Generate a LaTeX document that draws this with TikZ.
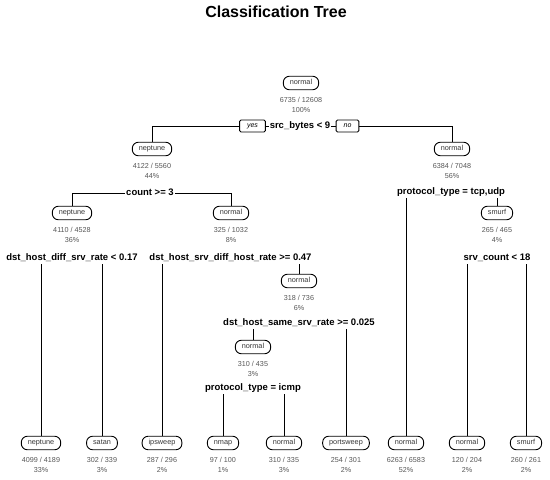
\documentclass[tikz,border=0pt]{standalone}
\usepackage{fontspec}
\setmainfont{Liberation Sans}
\usetikzlibrary{backgrounds}
\newcommand{\tn}[6]{%
  \node[nodebox] (#1) at (#2,#3) {#4};
  \node[stattext] (#1s) at (#2,#3+22) {#5\\#6};
}
\newcommand{\splitedge}[3]{%
  \draw[edgeline] (#2.north) -- (#2.north |- #1.center) -- (#3.north |- #1.center) -- (#3.north);
}
\begin{document}
\begin{tikzpicture}[x=1pt,y=-1pt,
  nodebox/.style={draw, line width=0.9pt, rounded corners=6pt, minimum height=13.5pt,
    inner xsep=6.5pt, inner ysep=0pt, text height=5.4pt, text depth=1.7pt,
    font=\fontsize{7.3}{8}\selectfont, text=black!78, fill=white},
  stattext/.style={align=center, font=\fontsize{7.2}{10}\selectfont, text=black!66, inner sep=0pt},
  splitlabel/.style={fill=white, inner xsep=1pt, inner ysep=1pt, text height=7pt, text depth=2pt,
    font=\bfseries\fontsize{9.5}{10}\selectfont},
  yesno/.style={draw, line width=0.9pt, rounded corners=1.5pt, fill=white, minimum height=12pt,
    inner xsep=7.5pt, inner ysep=0pt, text height=5pt, text depth=1.5pt,
    font=\itshape\fontsize{7}{8}\selectfont},
  edgeline/.style={line width=1pt}]
\useasboundingbox (0,0) rectangle (550,480);
\node[font=\bfseries\fontsize{16}{18}\selectfont] (title) at (276,12) {Classification Tree};

% internal nodes
\tn{n1}{301}{83}{normal}{6735 / 12608}{100\%}
\tn{n2}{152}{149}{neptune}{4122 / 5560}{44\%}
\tn{n3}{452}{149}{normal}{6384 / 7048}{56\%}
\tn{n4}{72}{213}{neptune}{4110 / 4528}{36\%}
\tn{n5}{231}{213}{normal}{325 / 1032}{8\%}
\tn{n7}{497}{213}{smurf}{265 / 465}{4\%}
\tn{n11}{299}{281}{normal}{318 / 736}{6\%}
\tn{n22}{253}{347}{normal}{310 / 435}{3\%}

% leaves
\tn{l1}{41}{443}{neptune}{4099 / 4189}{33\%}
\tn{l2}{102}{443}{satan}{302 / 339}{3\%}
\tn{l3}{162}{443}{ipsweep}{287 / 296}{2\%}
\tn{l4}{223}{443}{nmap}{97 / 100}{1\%}
\tn{l5}{284}{443}{normal}{310 / 335}{3\%}
\tn{l6}{346}{443}{portsweep}{254 / 301}{2\%}
\tn{l7}{406}{443}{normal}{6263 / 6583}{52\%}
\tn{l8}{467}{443}{normal}{120 / 204}{2\%}
\tn{l9}{526}{443}{smurf}{260 / 261}{2\%}

% split labels
\node[splitlabel] (s1) at (300,126) {src\_bytes < 9};
\node[yesno] (yes) at (252.5,126) {yes};
\node[yesno] (no) at (347.5,126) {no};
\node[splitlabel] (s2) at (150,193) {count >= 3};
\node[splitlabel] (s3) at (451,192) {protocol\_type = tcp,udp};
\node[splitlabel] (s4) at (72,258) {dst\_host\_diff\_srv\_rate < 0.17};
\node[splitlabel] (s5) at (230.5,258) {dst\_host\_srv\_diff\_host\_rate >= 0.47};
\node[splitlabel] (s7) at (497,258) {srv\_count < 18};
\node[splitlabel] (s11) at (299,323) {dst\_host\_same\_srv\_rate >= 0.025};
\node[splitlabel] (s22) at (253,388) {protocol\_type = icmp};

\begin{pgfonlayer}{background}
\splitedge{s1}{n2}{n3}
\splitedge{s2}{n4}{n5}
\splitedge{s3}{l7}{n7}
\splitedge{s4}{l1}{l2}
\splitedge{s5}{l3}{n11}
\splitedge{s7}{l8}{l9}
\splitedge{s11}{n22}{l6}
\splitedge{s22}{l4}{l5}
\end{pgfonlayer}
\end{tikzpicture}
\end{document}
